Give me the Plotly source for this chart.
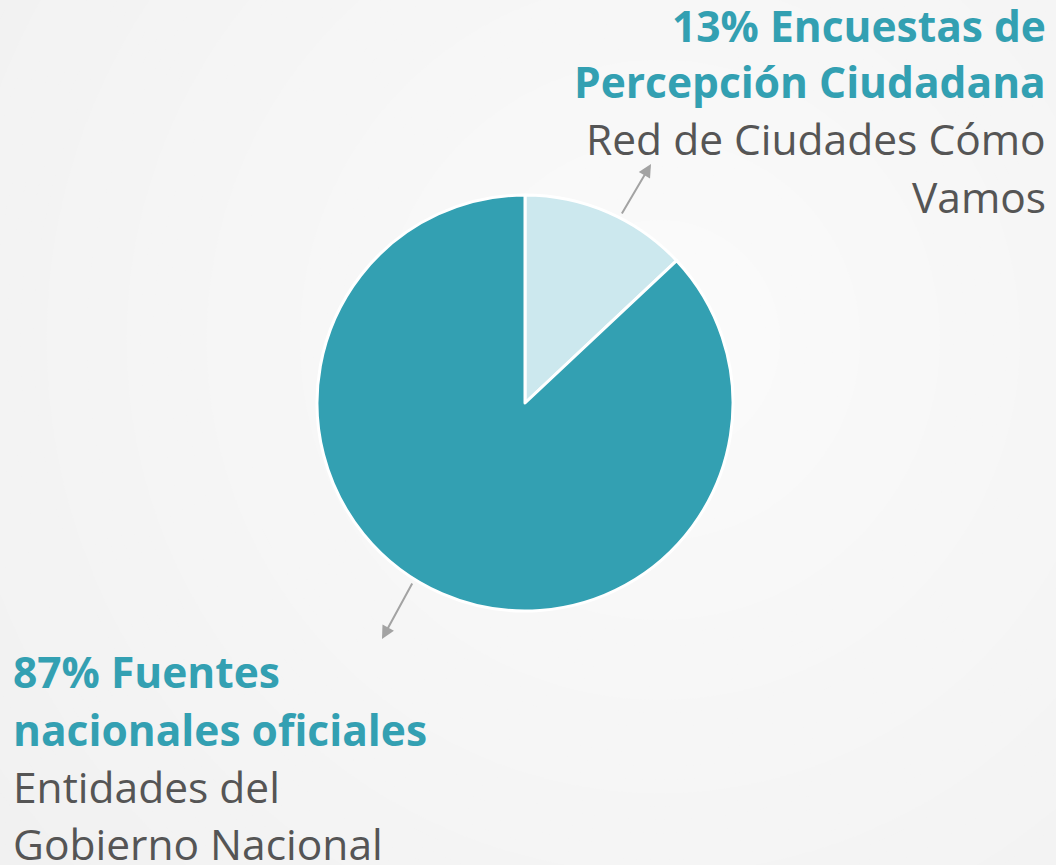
import plotly.graph_objects as go

W, H = 1056, 865

# Data
labels = ["Encuestas de Percepción Ciudadana", "Fuentes nacionales oficiales"]
values = [13, 87]
sources = ["Red de Ciudades Cómo Vamos", "Entidades del Gobierno Nacional"]
colors = ["#cce8ee", "#33a0b2"]

TEAL = "#33a0b2"
GRAY = "#555555"
FONT = "Open Sans"

fig = go.Figure()

cx, cy, r = 525, 403, 208
fig.add_trace(go.Pie(
    labels=labels, values=values, sort=False, direction="clockwise", rotation=0,
    marker=dict(colors=colors, line=dict(color="white", width=3)),
    textinfo="none", hoverinfo="label+percent", showlegend=False,
    domain=dict(x=[(cx - r) / W, (cx + r) / W], y=[1 - (cy + r) / H, 1 - (cy - r) / H]),
))

# Background radial gradient (concentric circles)
shapes = []
gcx, gcy = 660, 340
steps = 70
c_out, c_in = 0xEF, 0xFA
for i in range(steps):
    rad = 1000 - i * (1000 - 80) / (steps - 1)
    t = i / (steps - 1)
    c = c_out + (c_in - c_out) * t
    col = f"rgb({c:.2f},{c:.2f},{c:.2f})"
    shapes.append(dict(type="circle", xref="paper", yref="paper",
                       xsizemode="pixel", ysizemode="pixel",
                       xanchor=gcx / W, yanchor=1 - gcy / H,
                       x0=-rad, x1=rad, y0=-rad, y1=rad,
                       fillcolor=col, line=dict(width=0), layer="below"))

def line_ann(text, px, py, anchor, color, bold, size=42.5):
    return dict(text=f"<b>{text}</b>" if bold else text, x=px / W, y=1 - py / H,
                xref="paper", yref="paper", xanchor=anchor, yanchor="middle",
                showarrow=False, borderpad=0,
                font=dict(family=FONT, size=size, color=color))

pct0 = f"{values[0]}%"
pct1 = f"{values[1]}%"
l0 = labels[0].split(" ")
l1 = labels[1].split(" ")
s0 = sources[0].split(" ")
s1 = sources[1].split(" ")

anns = [
    line_ann(pct0 + " " + " ".join(l0[:2]), 1047, 26, "right", TEAL, True),
    line_ann(" ".join(l0[2:]), 1047, 82, "right", TEAL, True),
    line_ann(" ".join(s0[:4]), 1047, 139, "right", GRAY, False),
    line_ann(" ".join(s0[4:]), 1047, 197, "right", GRAY, False),
    line_ann(pct1 + " " + " ".join(l1[:1]), 12, 671, "left", TEAL, True),
    line_ann(" ".join(l1[1:]), 12, 729, "left", TEAL, True),
    line_ann(" ".join(s1[:2]), 12, 786, "left", GRAY, False),
    line_ann(" ".join(s1[2:]), 12, 843, "left", GRAY, False),
]

# Arrows
def arrow(tip, tail):
    return dict(x=tip[0] / W, y=1 - tip[1] / H, xref="paper", yref="paper",
                ax=tail[0] - tip[0], ay=tail[1] - tip[1], axref="pixel", ayref="pixel",
                text="", showarrow=True, arrowhead=2, arrowsize=1.3, arrowwidth=2,
                arrowcolor="#a3a3a3")

anns.append(arrow((651, 164), (621, 215)))
anns.append(arrow((382, 639), (413, 582)))

fig.update_layout(
    width=W, height=H, margin=dict(l=0, r=0, t=0, b=0),
    paper_bgcolor="#efefef", plot_bgcolor="#efefef",
    shapes=shapes, annotations=anns,
)

fig.write_html("out.html", config={"displayModeBar": False},
               post_script="document.body.style.margin='0';document.body.style.overflow='hidden';")
